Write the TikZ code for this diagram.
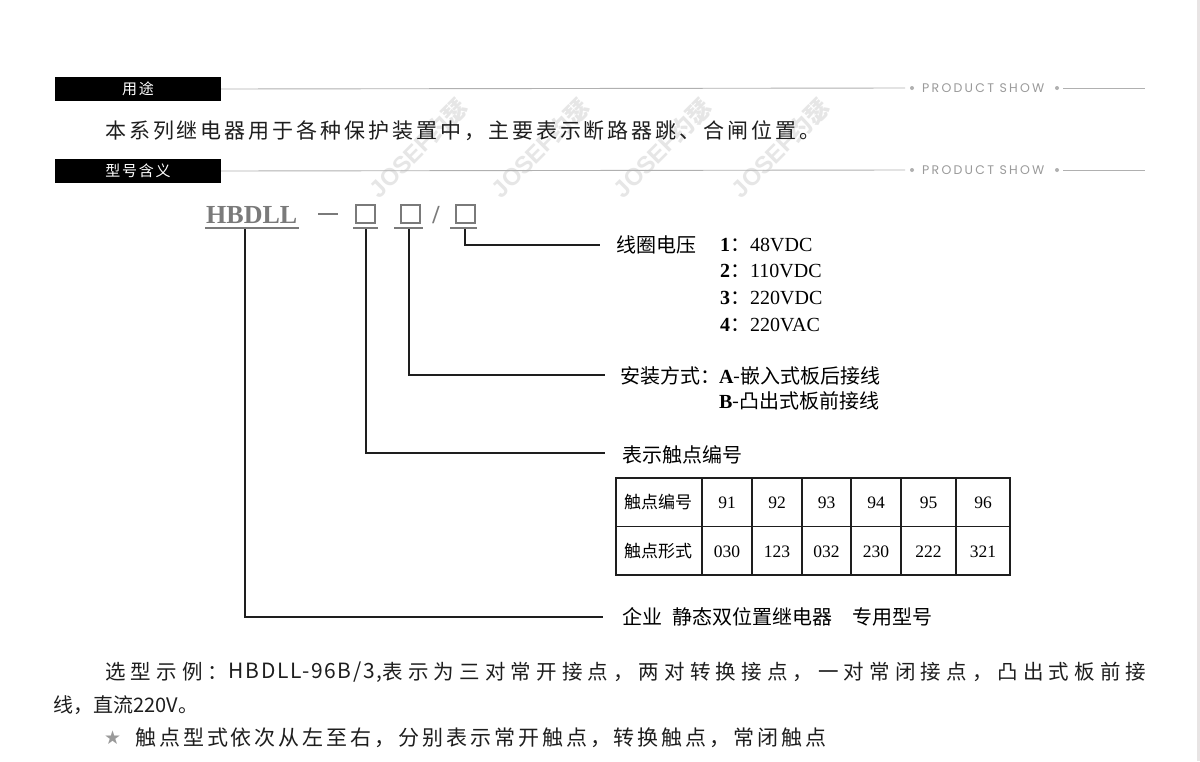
\documentclass[tikz,border=0pt]{standalone}
\usepackage{fontspec}
\setmainfont{Liberation Serif}
\newfontfamily\cjk{Noto Sans CJK SC}
\newfontfamily\cjkb[LetterSpace=14]{Noto Sans CJK SC}
\newfontfamily\cjkbw[LetterSpace=25]{Noto Sans CJK SC}
\newfontfamily\cjkbl[LetterSpace=8]{Noto Sans CJK SC}
\newfontfamily\cjkh[LetterSpace=12]{Noto Sans CJK SC}
\newfontfamily\pop[LetterSpace=18]{Poppins}
\newfontfamily\dv{DejaVu Sans}
\newfontfamily\ser{Liberation Serif}
\newfontfamily\lsans{Liberation Sans}
\definecolor{linegray}{HTML}{B0B0B0}
\definecolor{textgray}{HTML}{9A9A9A}
\definecolor{hbgray}{HTML}{7A7A7A}
\definecolor{ink}{HTML}{1E1E1E}
\definecolor{wm}{HTML}{E6E6E6}
\definecolor{edge}{HTML}{E8E4E4}
\tikzset{
  hdr/.style={fill=black, minimum width=166, minimum height=24, inner sep=0, text=white, font=\cjkh\fontsize{15}{17}\selectfont},
  body/.style={anchor=west, inner sep=0, text=ink, font=\cjkb\fontsize{21}{25}\selectfont},
  bodyn/.style={anchor=west, inner sep=0, text=ink, font=\cjk\fontsize{20}{24}\selectfont},
  bodyw/.style={anchor=west, inner sep=0, text=ink, font=\cjkbw\fontsize{20.5}{24}\selectfont},
  bodyl/.style={anchor=west, inner sep=0, text=ink, font=\cjkbl\fontsize{21}{24}\selectfont},
  lbl/.style={anchor=west, inner sep=0, text=black, font=\cjk\fontsize{20}{24}\selectfont},
  conn/.style={draw=ink, line width=1.4},
  gline/.style={draw=linegray, line width=0.9},
  ps/.style={anchor=west, inner sep=0, text=textgray, font=\pop\fontsize{12.5}{14}\selectfont},
  gbox/.style={draw=hbgray, line width=2, minimum width=19, minimum height=18, inner sep=0},
  hbul/.style={draw=hbgray, line width=1.6},
  cellh/.style={inner sep=0, text=black, font=\cjk\fontsize{17}{20}\selectfont},
  celln/.style={inner sep=0, text=black, font=\ser\fontsize{17.5}{20}\selectfont},
  wmk/.style={rotate=45, inner sep=0, text=wm, font=\lsans\bfseries\fontsize{24}{26}\selectfont},
}
\begin{document}
\begin{tikzpicture}[x=1pt,y=-1pt]
\useasboundingbox (0,0) rectangle (1200,761);
\fill[white] (0,0) rectangle (1200,761);
\fill[edge] (1197,0) rectangle (1200,761);

% watermarks
\foreach \wx/\nm in {418/w1,540/w2,662/w3,780/w4}{
  \node[wmk] (\nm) at (\wx,148) {JOSEF{\cjk 约瑟}};
}

% header 1
\node[hdr] (h1) at (138,89) {用途};
\coordinate (g1a) at (905,88);
\draw[gline] (h1.east) -- (g1a);
\fill[linegray] (912,88) circle (2);
\node[ps] (ps1) at (922,88) {PRODUCT SHOW};
\fill[linegray] (1057,88) circle (2);
\coordinate (g1b) at (1063,88);
\coordinate (g1c) at (1145,88);
\draw[gline] (g1b) -- (g1c);

\node[body] (t1) at (105,131) {本系列继电器用于各种保护装置中，主要表示断路器跳、合闸位置。};

% header 2
\node[hdr] (h2) at (138,171) {型号含义};
\coordinate (g2a) at (905,170);
\draw[gline] (h2.east) -- (g2a);
\fill[linegray] (912,170) circle (2);
\node[ps] (ps2) at (922,170) {PRODUCT SHOW};
\fill[linegray] (1057,170) circle (2);
\coordinate (g2b) at (1063,170);
\coordinate (g2c) at (1145,170);
\draw[gline] (g2b) -- (g2c);

% model code
\node[anchor=base west, inner sep=0, text=hbgray, font=\ser\bfseries\fontsize{26}{28}\selectfont] (hb) at (206,223) {HBDLL};
\coordinate (hbl) at (205,228); \coordinate (hbr) at (299,228);
\draw[hbul] (hbl) -- (hbr);
\coordinate (da) at (318,214); \coordinate (db) at (338,214);
\draw[draw=hbgray, line width=2.6] (da) -- (db);
\node[gbox] (b1) at (365.5,214) {};
\node[gbox] (b2) at (410,214) {};
\node[anchor=base, inner sep=0, text=hbgray, font=\ser\bfseries\fontsize{26}{28}\selectfont] (sl) at (436,223) {/};
\node[gbox] (b3) at (465,214) {};
\coordinate (b1l) at (353,228); \coordinate (b1r) at (378,228);
\coordinate (b2l) at (394,228); \coordinate (b2r) at (423,228);
\coordinate (b3l) at (450,228); \coordinate (b3r) at (477,228);
\draw[hbul] (b1l) -- (b1r);
\draw[hbul] (b2l) -- (b2r);
\draw[hbul] (b3l) -- (b3r);

% labels
\node[lbl] (lv) at (616,245) {线圈电压};
\node[lbl] (v1) at (720,245) {{\ser\bfseries 1}：{\ser 48VDC}};
\node[lbl] (v2) at (720,271) {{\ser\bfseries 2}：{\ser 110VDC}};
\node[lbl] (v3) at (720,298) {{\ser\bfseries 3}：{\ser 220VDC}};
\node[lbl] (v4) at (720,325) {{\ser\bfseries 4}：{\ser 220VAC}};
\node[lbl] (la) at (620,376) {安装方式：};
\node[lbl] (ma) at (719,376) {{\ser\bfseries A}-嵌入式板后接线};
\node[lbl] (mb) at (719,401) {{\ser\bfseries B}-凸出式板前接线};
\node[lbl] (lc) at (622,455) {表示触点编号};
\node[lbl] (le) at (622,617) {企业\hspace{10pt}静态双位置继电器\hspace{20pt}专用型号};

% connectors
\coordinate (uh) at (245,229);
\coordinate (u1) at (366,229);
\coordinate (u2) at (409,229);
\coordinate (u3) at (465,229);
\coordinate (e3) at (600,245);
\coordinate (e2) at (605,375);
\coordinate (e1) at (605,453);
\coordinate (eh) at (603,617);
\draw[conn] (u3) |- (e3);
\draw[conn] (u2) |- (e2);
\draw[conn] (u1) |- (e1);
\draw[conn] (uh) |- (eh);

% table
\draw[conn, line width=1.3] (616,478) rectangle (1010,575);
\draw[conn, line width=1.3] (616,526.5) -- (1010,526.5);
\foreach \cx in {702,752,802,851,901,956}{
  \draw[conn, line width=1.3] (\cx,478) -- (\cx,575);
}
\node[cellh] (r1h) at (658,502) {触点编号};
\node[cellh] (r2h) at (658,551) {触点形式};
\foreach \cx/\a/\b/\i in {727/91/030/1,777/92/123/2,826.5/93/032/3,876/94/230/4,928.5/95/222/5,983/96/321/6}{
  \node[celln] (n\i) at (\cx,503) {\a};
  \node[celln] (f\i) at (\cx,552) {\b};
}

% bottom text
\node[bodyw] (s1a) at (105,672) {选型示例：};
\node[bodyl] (s1b) at (s1a.east) {HBDLL-96B/3,};
\node[bodyw] (s1c) at (s1b.east) {表示为三对常开接点，两对转换接点，一对常闭接点，凸出式板前接};
\node[bodyn] (s2) at (53,705) {线，直流220V。};
\node[anchor=west, inner sep=0, text=textgray, font=\dv\fontsize{19}{22}\selectfont] (star) at (104,738) {★};
\node[body] (s3) at (135,738) {触点型式依次从左至右，分别表示常开触点，转换触点，常闭触点};
\end{tikzpicture}
\end{document}
